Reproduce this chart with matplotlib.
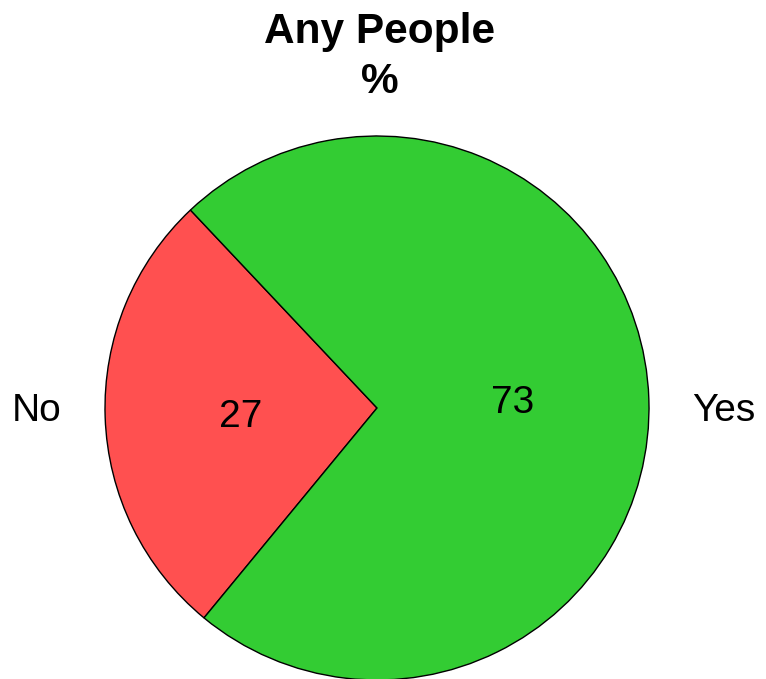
import matplotlib
matplotlib.use("Agg")
import matplotlib.pyplot as plt

plt.rcParams['font.family'] = ['Liberation Sans', 'DejaVu Sans']

labels = ["No", "Yes"]
values = [27, 73]
colors = ["#FF5050", "#33CC33"]
title = "Any People\n%"

fig = plt.figure(figsize=(7.66, 6.79), dpi=100)
ax = fig.add_axes([0, 0, 1, 1])

# pie centre at (377, 408) px from top-left, radius 272 px
scale = 272.0
cx, cy = 377.0, 408.0

wedges, texts, autotexts = ax.pie(values, labels=labels, colors=colors,
                                  startangle=133.3, counterclock=True,
                                  autopct='%.0f', pctdistance=0.5,
                                  labeldistance=1.16, frame=True,
                                  wedgeprops=dict(edgecolor='black', linewidth=1.0),
                                  textprops=dict(fontsize=28))
# category labels sit on the horizontal through the centre
for t in texts:
    t.set_y(-3 / scale)
    t.set_va('center')
autotexts[0].set_y(autotexts[0].get_position()[1] - 4 / scale)

ax.set_xlim(-cx / scale, (766 - cx) / scale)
ax.set_ylim(-(679 - cy) / scale, cy / scale)
ax.set_aspect('auto')
ax.axis('off')

fig.text(380 / 766, 1 - 93 / 679, title, ha='center', va='baseline',
         fontsize=30.5, fontweight='bold', linespacing=1.33)

fig.savefig("out.png", dpi=100)
